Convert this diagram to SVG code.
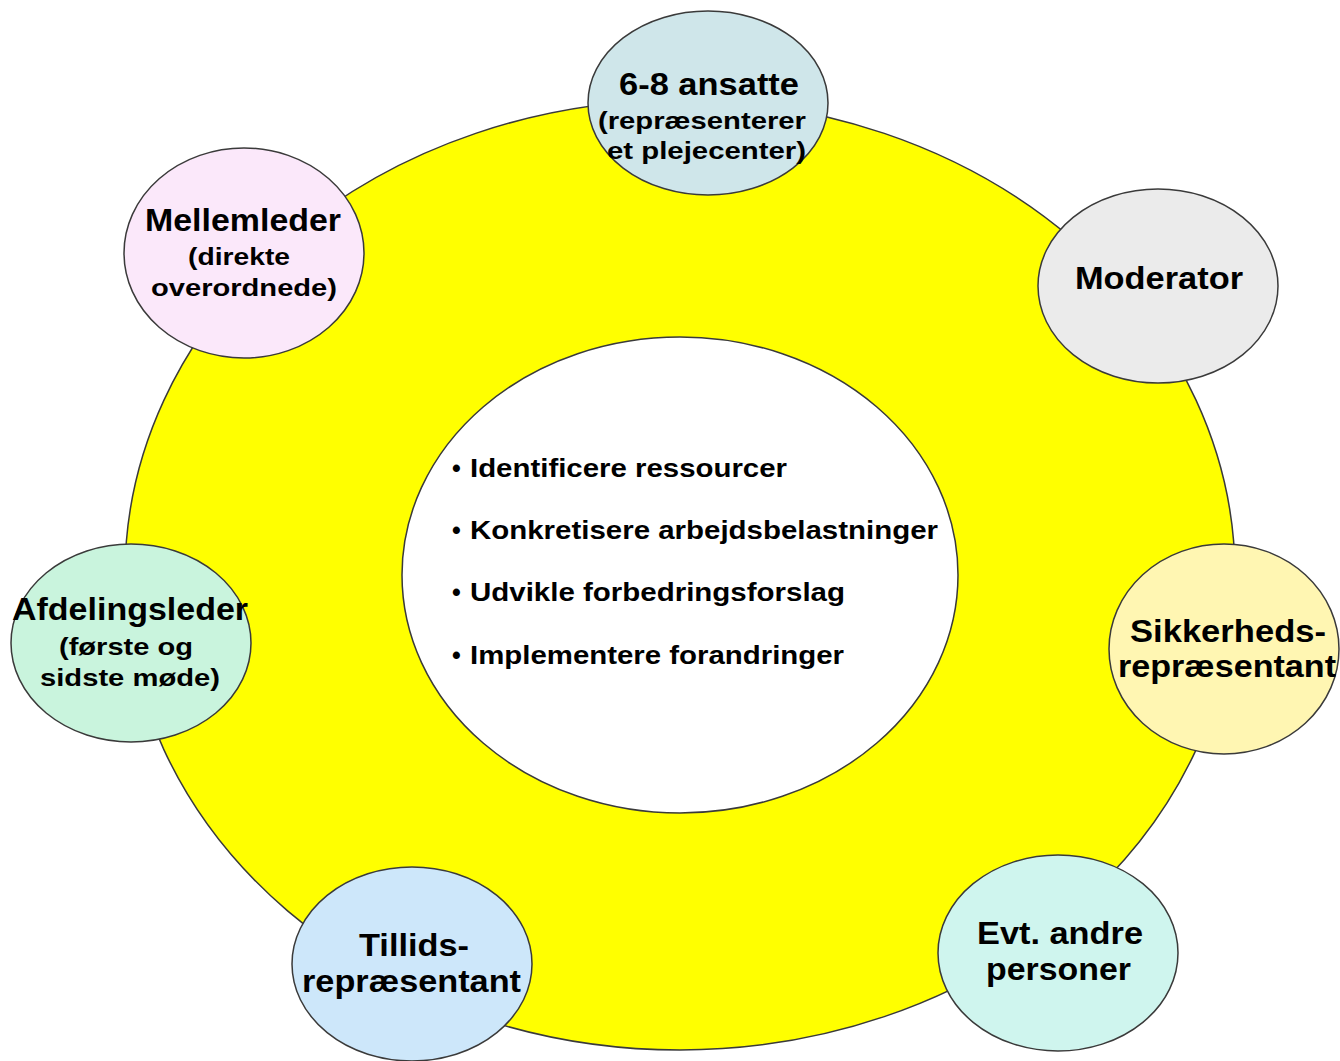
<svg xmlns="http://www.w3.org/2000/svg" width="1340" height="1061" viewBox="0 0 1340 1061">
<style>
.ring{stroke:#3a3a3a;stroke-width:1.5}
.node{stroke:#3a3a3a;stroke-width:1.5}
text{font-family:"Liberation Sans",Arial,sans-serif;font-weight:bold;fill:#000}
.t{font-size:32px}
.s{font-size:24px}
.b{font-size:25px}
</style>
<rect width="1340" height="1061" fill="#ffffff"/>
<g id="ring">
<ellipse class="ring" cx="680" cy="575" rx="555" ry="475" fill="#ffff00"/>
<ellipse class="ring" cx="680" cy="575" rx="278" ry="238" fill="#ffffff"/>
<text class="b" x="452" y="477">•</text>
<text class="b" x="470" y="477" textLength="317" lengthAdjust="spacingAndGlyphs">Identificere ressourcer</text>
<text class="b" x="452" y="539">•</text>
<text class="b" x="470" y="539" textLength="468" lengthAdjust="spacingAndGlyphs">Konkretisere arbejdsbelastninger</text>
<text class="b" x="452" y="601">•</text>
<text class="b" x="470" y="601" textLength="375" lengthAdjust="spacingAndGlyphs">Udvikle forbedringsforslag</text>
<text class="b" x="452" y="664">•</text>
<text class="b" x="470" y="664" textLength="374" lengthAdjust="spacingAndGlyphs">Implementere forandringer</text>
</g>
<g id="connectors"></g>
<g id="n-ansatte">
<ellipse class="node" cx="708" cy="103" rx="120" ry="92" fill="#cfe6ea"/>
<text class="t" x="619" y="95" textLength="180" lengthAdjust="spacingAndGlyphs">6-8 ansatte</text>
<text class="s" x="598" y="129" textLength="208" lengthAdjust="spacingAndGlyphs">(repræsenterer</text>
<text class="s" x="607" y="159" textLength="199" lengthAdjust="spacingAndGlyphs">et plejecenter)</text>
</g>
<g id="n-mellemleder">
<ellipse class="node" cx="244" cy="253" rx="120" ry="105" fill="#fbe8fa"/>
<text class="t" x="145" y="231" textLength="196" lengthAdjust="spacingAndGlyphs">Mellemleder</text>
<text class="s" x="188" y="265" textLength="102" lengthAdjust="spacingAndGlyphs">(direkte</text>
<text class="s" x="151" y="296" textLength="186" lengthAdjust="spacingAndGlyphs">overordnede)</text>
</g>
<g id="n-moderator">
<ellipse class="node" cx="1158" cy="286" rx="120" ry="97" fill="#ebebeb"/>
<text class="t" x="1075" y="289" textLength="168" lengthAdjust="spacingAndGlyphs">Moderator</text>
</g>
<g id="n-afdelingsleder">
<ellipse class="node" cx="131" cy="643" rx="120" ry="99" fill="#c9f4dd"/>
<text class="t" x="12" y="620" textLength="236" lengthAdjust="spacingAndGlyphs">Afdelingsleder</text>
<text class="s" x="59" y="655" textLength="134" lengthAdjust="spacingAndGlyphs">(første og</text>
<text class="s" x="40" y="686" textLength="180" lengthAdjust="spacingAndGlyphs">sidste møde)</text>
</g>
<g id="n-sikkerhed">
<ellipse class="node" cx="1224" cy="649" rx="115" ry="105" fill="#fff6b2"/>
<text class="t" x="1130" y="642" textLength="196" lengthAdjust="spacingAndGlyphs">Sikkerheds-</text>
<text class="t" x="1118" y="677" textLength="218" lengthAdjust="spacingAndGlyphs">repræsentant</text>
</g>
<g id="n-tillid">
<ellipse class="node" cx="412" cy="964" rx="120" ry="97" fill="#cde7fa"/>
<text class="t" x="359" y="956" textLength="110" lengthAdjust="spacingAndGlyphs">Tillids-</text>
<text class="t" x="302" y="992" textLength="219" lengthAdjust="spacingAndGlyphs">repræsentant</text>
</g>
<g id="n-andre">
<ellipse class="node" cx="1058" cy="953" rx="120" ry="98" fill="#cff5ee"/>
<text class="t" x="977" y="944" textLength="166" lengthAdjust="spacingAndGlyphs">Evt. andre</text>
<text class="t" x="986" y="980" textLength="145" lengthAdjust="spacingAndGlyphs">personer</text>
</g>
</svg>
